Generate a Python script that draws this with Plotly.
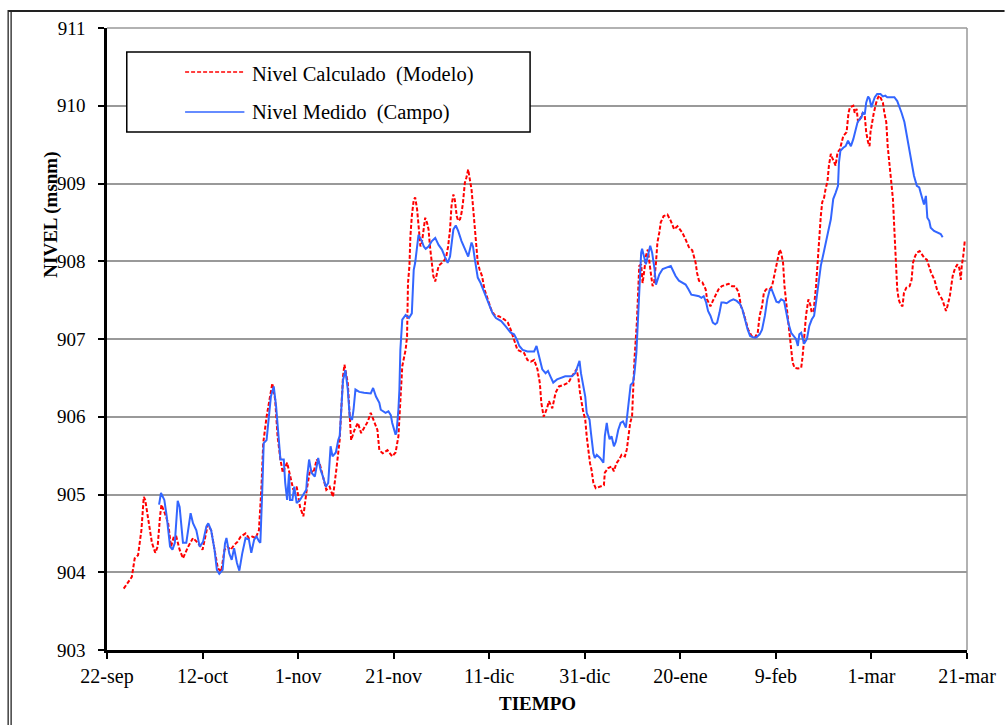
import pandas as pd
import plotly.graph_objects as go

# Time origin of the series (days are counted from here)
start_date = "2002-09-22"

# Calculated level (model) — days since start, level in msnm
calc_days = [3.5, 5.2, 5.8, 6.5, 7.2, 7.7, 8.0, 8.7, 9.4, 10.1, 10.6, 11.1, 11.4, 12.1, 12.8, 13.4, 14.0, 14.5,
             15.2, 15.9, 17.0, 18.0, 19.0, 20.0, 21.1, 21.8, 22.5, 23.2, 23.9, 24.6, 25.2, 25.9, 26.6, 27.3,
             28.0, 29.0, 29.7, 30.4, 31.1, 31.8, 32.3, 32.7, 33.4, 34.1, 34.6, 35.2, 35.7, 36.3, 36.8, 37.7,
             38.3, 39.0, 39.7, 40.4, 41.1, 41.8, 42.5, 43.2, 43.9, 44.5, 45.2, 45.9, 46.6, 47.3, 48.0, 48.7,
             49.4, 49.7, 50.4, 50.8, 51.1, 51.8, 52.5, 53.2, 53.9, 54.6, 55.2, 55.9, 56.6, 57.0, 57.7, 58.7,
             59.7, 60.4, 61.0, 61.2, 61.4, 61.8, 62.5, 62.8, 63.0, 63.3, 63.5, 63.8, 64.2, 64.5, 64.9, 65.2,
             65.6, 65.9, 66.3, 66.6, 67.0, 67.3, 67.6, 68.0, 68.3, 68.7, 69.0, 69.4, 70.1, 70.7, 71.0, 71.4,
             71.8, 72.1, 72.5, 72.8, 73.2, 73.5, 73.9, 74.2, 74.5, 74.9, 75.2, 75.6, 75.9, 76.3, 76.6, 77.0,
             77.3, 77.6, 78.0, 78.5, 79.0, 79.7, 80.4, 81.1, 82.1, 83.2, 83.9, 84.5, 85.2, 85.9, 86.6, 87.3,
             88.0, 88.7, 89.4, 90.1, 90.6, 90.9, 91.4, 92.1, 92.5, 93.2, 93.9, 94.6, 95.6, 96.6, 97.3, 98.0,
             98.3, 98.7, 99.0, 99.6, 100.1, 100.4, 100.8, 101.1, 101.4, 101.8, 102.3, 103.2, 104.0, 104.2,
             104.9, 105.6, 106.1, 106.6, 107.2, 107.7, 108.4, 108.8, 109.2, 109.5, 109.9, 110.4, 110.9, 111.2,
             111.4, 111.8, 112.1, 112.5, 112.8, 113.2, 113.5, 113.9, 114.2, 114.5, 114.9, 115.2, 115.6, 115.9,
             116.5, 117.3, 118.0, 118.7, 119.4, 120.4, 121.1, 121.8, 122.5, 123.2, 123.5, 123.9, 124.6, 125.3,
             125.6, 126.3, 126.8, 127.3, 128.0, 128.7, 129.4, 130.1, 130.8, 131.5, 132.2, 132.7, 133.2, 133.7,
             134.2, 134.9, 135.6, 136.2, 136.6, 137.1, 137.5, 138.0, 138.7, 139.2, 139.6, 140.1, 140.4, 140.8,
             141.1, 141.5, 141.8, 142.2, 142.5, 142.8, 143.2, 143.5, 143.9, 144.6, 145.3, 145.6, 146.0, 146.3,
             146.8, 147.2, 147.5, 147.9, 148.4, 148.7, 149.1, 149.4, 149.7, 150.1, 150.4, 150.8, 151.1, 151.5,
             151.8, 152.2, 152.5, 152.9, 153.4, 154.1, 154.8, 155.2, 155.5, 156.2, 156.5, 156.9, 157.2, 157.6,
             157.9, 158.2, 158.6, 158.9, 159.3, 159.6, 159.8, 160.1, 160.5, 161.0, 161.4, 161.7, 162.0, 162.4,
             162.7, 163.1, 163.4, 163.8, 164.1, 164.5, 164.8, 165.1, 165.4, 165.7, 166.1, 166.5, 166.8, 167.3,
             168.0, 168.4, 168.7, 169.1, 169.5, 170.1, 170.6, 171.1, 171.6, 172.0, 172.5, 173.2, 173.7, 174.2,
             174.8, 175.3, 175.6, 175.9, 176.4, 177.0, 177.5, 178.0, 178.4, 178.7, 178.9, 179.2, 179.5, 179.8]
calc_level = [903.79, 903.94, 904.18, 904.22, 904.54, 904.97, 904.93, 904.63, 904.38, 904.25, 904.33, 904.72,
              904.87, 904.76, 904.63, 904.33, 904.46, 904.46, 904.29, 904.18, 904.33, 904.44, 904.38, 904.29,
              904.61, 904.54, 904.29, 904.05, 904.01, 904.29, 904.33, 904.29, 904.35, 904.39, 904.46, 904.50,
              904.44, 904.46, 904.44, 904.54, 905.06, 905.66, 906.00, 906.26, 906.43, 906.22, 905.75, 905.45,
              905.28, 905.41, 905.23, 905.06, 905.10, 904.84, 904.72, 905.06, 905.32, 905.28, 905.45, 905.40,
              905.23, 905.06, 905.10, 904.97, 905.32, 905.70, 906.52, 906.67, 906.43, 906.00, 905.70, 905.83,
              905.92, 905.79, 905.87, 905.94, 906.05, 905.94, 905.83, 905.57, 905.53, 905.57, 905.49, 905.54,
              905.75, 905.98, 906.26, 906.65, 906.86, 907.03, 907.72, 907.94, 908.32, 908.58, 908.79, 908.82,
              908.67, 908.41, 908.19, 908.24, 908.41, 908.56, 908.49, 908.41, 908.19, 907.98, 907.81, 907.74,
              907.83, 907.94, 907.98, 908.02, 908.06, 908.19, 908.41, 908.71, 908.86, 908.79, 908.58, 908.52,
              908.54, 908.62, 908.75, 909.01, 909.07, 909.18, 909.07, 908.92, 908.71, 908.41, 908.15, 907.98,
              907.89, 907.81, 907.64, 907.51, 907.38, 907.31, 907.29, 907.25, 907.21, 907.12, 906.99, 906.86,
              906.84, 906.82, 906.73, 906.71, 906.73, 906.61, 906.43, 906.18, 906.00, 906.11, 906.20, 906.11,
              906.31, 906.39, 906.41, 906.44, 906.52, 906.59, 906.61, 906.48, 906.31, 906.09, 905.96, 905.75,
              905.53, 905.40, 905.32, 905.15, 905.08, 905.10, 905.12, 905.28, 905.34, 905.36, 905.30, 905.40,
              905.45, 905.51, 905.49, 905.58, 905.75, 905.92, 906.01, 906.74, 907.21, 907.68, 907.94, 907.96,
              907.72, 907.90, 908.07, 908.15, 908.03, 907.81, 907.68, 907.72, 907.98, 908.24, 908.37, 908.50,
              908.58, 908.60, 908.52, 908.41, 908.45, 908.37, 908.28, 908.18, 908.14, 907.98, 907.85, 907.75,
              907.73, 907.64, 907.51, 907.42, 907.49, 907.55, 907.64, 907.68, 907.70, 907.71, 907.68, 907.68,
              907.60, 907.42, 907.34, 907.21, 907.12, 907.04, 907.02, 907.08, 907.30, 907.42, 907.60, 907.64,
              907.64, 907.68, 907.81, 907.94, 908.07, 908.15, 908.11, 907.98, 907.68, 907.42, 907.25, 907.04,
              906.87, 906.70, 906.63, 906.62, 906.63, 906.78, 907.04, 907.30, 907.51, 907.44, 907.34, 907.36,
              907.68, 907.98, 908.33, 908.58, 908.76, 908.82, 908.93, 909.03, 909.23, 909.38, 909.33, 909.27,
              909.23, 909.40, 909.44, 909.61, 909.66, 909.91, 909.98, 910.00, 909.91, 909.96, 909.79, 909.83,
              909.87, 909.91, 909.87, 909.66, 909.53, 909.48, 909.66, 909.79, 909.91, 910.04, 910.11, 910.13,
              910.09, 910.04, 909.91, 909.79, 909.48, 909.23, 908.97, 908.80, 908.40, 907.98, 907.64, 907.51,
              907.44, 907.42, 907.59, 907.66, 907.68, 907.76, 907.98, 908.06, 908.11, 908.13, 908.09, 908.04,
              908.02, 907.94, 907.85, 907.76, 907.64, 907.57, 907.51, 907.42, 907.36, 907.42, 907.55, 907.81,
              907.91, 907.96, 907.91, 907.76, 907.94, 908.06, 908.24, 908.24]

# Measured level (field) — days since start, level in msnm
meas_days = [10.9, 11.3, 12.0, 12.5, 13.2, 13.7, 14.2, 14.8, 15.2, 15.9, 16.6, 17.1, 17.5, 18.0, 18.7, 19.4,
             20.1, 20.8, 21.2, 21.8, 22.5, 23.0, 23.5, 24.2, 24.7, 25.0, 25.6, 26.1, 26.6, 27.2, 27.7, 28.3,
             29.0, 29.7, 30.2, 30.8, 31.3, 31.8, 32.1, 32.5, 32.8, 33.4, 33.9, 34.3, 34.9, 35.4, 35.9, 36.3,
             37.0, 37.3, 37.7, 38.1, 38.3, 38.8, 39.2, 39.7, 40.4, 41.7, 41.9, 42.3, 42.8, 43.5, 44.2, 44.7,
             45.2, 45.8, 46.3, 46.8, 47.2, 47.9, 48.4, 48.7, 49.4, 49.9, 50.4, 50.8, 51.3, 51.6, 52.0, 52.8,
             53.8, 54.6, 55.2, 55.7, 56.3, 57.0, 57.3, 58.3, 58.9, 59.4, 59.7, 60.4, 60.6, 61.0, 61.2, 61.4,
             61.8, 62.5, 63.2, 63.8, 64.2, 64.5, 64.9, 65.2, 65.9, 66.3, 66.7, 67.3, 68.0, 68.7, 69.4, 70.1,
             70.7, 71.3, 71.8, 72.1, 72.5, 73.0, 73.5, 74.2, 74.9, 75.6, 76.3, 76.6, 77.0, 77.3, 77.6, 78.2,
             78.7, 79.4, 80.1, 80.7, 81.4, 82.5, 83.5, 84.5, 85.2, 85.8, 86.3, 87.0, 88.0, 89.4, 89.9, 90.4,
             91.1, 91.8, 92.3, 92.8, 93.4, 94.2, 95.2, 95.9, 97.3, 98.0, 98.5, 98.9, 99.2, 99.6, 100.1, 100.4,
             101.0, 101.3, 101.8, 102.1, 102.5, 103.2, 103.9, 104.2, 104.6, 104.9, 105.2, 105.6, 106.1, 106.5,
             107.0, 107.5, 108.0, 108.6, 108.8, 109.2, 109.6, 110.1, 110.4, 110.8, 111.1, 111.4, 111.8, 112.0,
             112.5, 112.8, 113.2, 113.7, 114.1, 114.6, 114.9, 115.2, 115.6, 116.3, 117.3, 118.0, 118.3, 119.0,
             119.7, 120.4, 121.1, 121.7, 122.3, 123.2, 123.9, 124.4, 124.9, 125.4, 125.8, 126.3, 126.8, 127.3,
             127.7, 128.2, 128.6, 129.1, 129.7, 130.4, 131.1, 131.8, 132.5, 133.0, 133.5, 134.1, 134.6, 135.3,
             135.9, 136.6, 137.1, 137.7, 138.2, 138.7, 139.1, 139.6, 140.1, 140.6, 141.1, 141.7, 142.2, 142.6,
             143.2, 143.7, 144.2, 144.6, 144.9, 145.3, 145.9, 146.5, 147.0, 147.5, 148.0, 148.4, 148.8, 149.4,
             150.0, 150.4, 150.9, 151.5, 152.0, 152.5, 153.0, 153.2, 153.5, 154.1, 154.6, 155.1, 155.7, 156.2,
             156.7, 157.1, 157.6, 157.9, 158.2, 158.6, 158.9, 159.3, 159.6, 160.0, 160.3, 160.7, 161.2, 161.9,
             162.4, 162.9, 163.3, 164.8, 165.4, 165.8, 166.3, 166.9, 167.4, 167.9, 168.4, 168.9, 169.5, 170.0,
             170.3, 170.7, 171.0, 171.4, 171.6, 171.7, 172.1, 172.4, 173.1, 173.8, 174.5, 174.9]
meas_level = [904.87, 905.02, 904.93, 904.72, 904.33, 904.29, 904.38, 904.92, 904.84, 904.38, 904.38, 904.59,
              904.76, 904.63, 904.54, 904.33, 904.39, 904.59, 904.63, 904.54, 904.29, 904.03, 903.98, 904.03,
              904.37, 904.44, 904.24, 904.16, 904.31, 904.12, 904.02, 904.24, 904.44, 904.42, 904.25, 904.42,
              904.46, 904.40, 904.38, 905.06, 905.66, 905.70, 906.00, 906.26, 906.39, 906.13, 905.75, 905.45,
              905.45, 905.15, 904.93, 905.27, 904.93, 904.93, 905.10, 904.89, 904.93, 905.06, 905.23, 905.45,
              905.28, 905.23, 905.47, 905.32, 905.23, 905.10, 905.15, 905.62, 905.49, 905.54, 905.70, 905.75,
              906.47, 906.60, 906.35, 906.00, 905.96, 906.09, 906.35, 906.32, 906.31, 906.30, 906.30, 906.37,
              906.26, 906.18, 906.09, 906.05, 906.07, 906.02, 905.92, 905.77, 905.80, 906.10, 906.35, 906.86,
              907.25, 907.31, 907.27, 907.33, 907.89, 907.98, 908.19, 908.34, 908.26, 908.19, 908.16, 908.19,
              908.26, 908.30, 908.21, 908.15, 908.06, 907.98, 908.06, 908.24, 908.41, 908.46, 908.39, 908.26,
              908.15, 908.06, 908.24, 908.19, 908.02, 907.87, 907.79, 907.72, 907.64, 907.53, 907.42, 907.33,
              907.27, 907.23, 907.16, 907.08, 907.06, 906.99, 906.91, 906.86, 906.84, 906.84, 906.91, 906.80,
              906.61, 906.56, 906.59, 906.52, 906.44, 906.48, 906.50, 906.52, 906.52, 906.56, 906.65, 906.72,
              906.56, 906.44, 906.26, 906.05, 905.96, 905.79, 905.53, 905.47, 905.51, 905.47, 905.41, 905.75,
              905.92, 905.79, 905.71, 905.75, 905.62, 905.68, 905.83, 905.92, 905.94, 905.86, 905.96, 906.18,
              906.41, 906.44, 906.56, 906.82, 907.25, 907.68, 908.11, 908.16, 908.03, 907.96, 908.07, 908.20,
              908.11, 907.90, 907.70, 907.75, 907.83, 907.90, 907.92, 907.94, 907.90, 907.81, 907.75, 907.72,
              907.70, 907.64, 907.57, 907.56, 907.55, 907.53, 907.55, 907.47, 907.36, 907.30, 907.21, 907.19,
              907.21, 907.34, 907.47, 907.47, 907.46, 907.49, 907.51, 907.49, 907.45, 907.38, 907.25, 907.12,
              907.04, 907.02, 907.02, 907.06, 907.12, 907.30, 907.51, 907.63, 907.64, 907.55, 907.48, 907.47,
              907.51, 907.49, 907.34, 907.21, 907.08, 907.04, 907.00, 906.91, 907.06, 907.08, 906.94, 907.00,
              907.17, 907.25, 907.30, 907.47, 907.68, 907.94, 908.11, 908.24, 908.37, 908.54, 908.80, 908.88,
              908.97, 909.27, 909.42, 909.46, 909.48, 909.55, 909.48, 909.57, 909.68, 909.79, 909.83, 909.85,
              909.91, 909.89, 910.04, 910.12, 910.09, 909.98, 910.04, 910.11, 910.15, 910.15, 910.12, 910.13,
              910.11, 910.11, 910.06, 910.00, 909.91, 909.79, 909.61, 909.44, 909.27, 909.10, 908.97, 908.95,
              908.88, 908.80, 908.73, 908.84, 908.71, 908.56, 908.52, 908.43, 908.39, 908.37, 908.35, 908.31]

# Axis ticks: every 20 days from the start date
tick_days = [0, 20, 40, 60, 80, 100, 120, 140, 160, 180]
tick_labels = ["22-sep", "12-oct", "1-nov", "21-nov", "11-dic", "31-dic", "20-ene", "9-feb", "1-mar", "21-mar"]
y_ticks = [903, 904, 905, 906, 907, 908, 909, 910, 911]

series_names = ["Nivel Calculado\u00a0 (Modelo)", "Nivel Medido\u00a0 (Campo)"]

t0 = pd.Timestamp(start_date)


def to_dates(days):
    return [t0 + pd.to_timedelta(d, unit="D") for d in days]


RED = "#FF0000"
BLUE = "#3366FF"
FONT = "Liberation Serif, Times New Roman, serif"

W, H = 1008, 725
L, R, T, B = 107, 977, 28, 650  # plot area in pixels


def px(x):
    return (x - L) / (R - L)


def py(y):
    return (B - y) / (B - T)


fig = go.Figure()
fig.add_trace(go.Scatter(x=to_dates(calc_days), y=calc_level, mode="lines", name=series_names[0],
                         line=dict(color=RED, width=2, dash="4px,2px"), showlegend=False))
fig.add_trace(go.Scatter(x=to_dates(meas_days), y=meas_level, mode="lines", name=series_names[1],
                         line=dict(color=BLUE, width=2), showlegend=False))

shapes = []
# plot-area border on top and right
shapes.append(dict(type="line", xref="paper", yref="paper", x0=0, x1=1, y0=1, y1=1,
                   line=dict(color="#999999", width=1.5), layer="below"))
shapes.append(dict(type="line", xref="paper", yref="paper", x0=1, x1=1, y0=0, y1=1,
                   line=dict(color="#999999", width=1.5), layer="below"))
# outer chart frame (double rule on the left)
shapes.append(dict(type="line", xref="paper", yref="paper", x0=px(7), x1=px(7), y0=py(10), y1=py(730),
                   line=dict(color="#222222", width=1.3)))
shapes.append(dict(type="line", xref="paper", yref="paper", x0=px(10), x1=px(10), y0=py(11), y1=py(730),
                   line=dict(color="#222222", width=1.3)))
shapes.append(dict(type="line", xref="paper", yref="paper", x0=px(7), x1=px(1015), y0=py(11), y1=py(11),
                   line=dict(color="#222222", width=2)))
# legend box
shapes.append(dict(type="rect", xref="paper", yref="paper", x0=px(127), x1=px(535), y0=py(52), y1=py(132),
                   line=dict(color="#000000", width=1.5), fillcolor="white", layer="above"))
shapes.append(dict(type="line", xref="paper", yref="paper", x0=px(186), x1=px(246), y0=py(72), y1=py(72),
                   line=dict(color=RED, width=1.3, dash="4px,2px"), layer="above"))
shapes.append(dict(type="line", xref="paper", yref="paper", x0=px(186), x1=px(246), y0=py(112), y1=py(112),
                   line=dict(color=BLUE, width=1.6), layer="above"))

annotations = []
for name, yc in zip(series_names, [74, 113]):
    annotations.append(dict(text=name, xref="paper", yref="paper", x=px(252), y=py(yc),
                            xanchor="left", yanchor="middle", showarrow=False,
                            font=dict(family=FONT, size=20.5, color="black")))
annotations.append(dict(text="<b>TIEMPO</b>", xref="paper", yref="paper", x=px(542), y=py(703),
                        xanchor="center", yanchor="middle", showarrow=False,
                        font=dict(family=FONT, size=19, color="black")))
annotations.append(dict(text="<b>NIVEL (msnm)</b>", xref="paper", yref="paper", x=px(50), y=py(215),
                        xanchor="center", yanchor="middle", showarrow=False, textangle=-90,
                        font=dict(family=FONT, size=19, color="black")))

fig.update_layout(
    width=W, height=H,
    margin=dict(l=L, r=W - R, t=T, b=H - B),
    paper_bgcolor="white", plot_bgcolor="white",
    font=dict(family=FONT, size=20, color="black"),
    shapes=shapes, annotations=annotations,
    showlegend=False,
)
fig.update_xaxes(
    type="date",
    range=[t0, t0 + pd.to_timedelta(180, unit="D")],
    tickmode="array", tickvals=to_dates(tick_days), ticktext=tick_labels,
    ticks="outside", ticklen=6, tickwidth=2, tickcolor="black",
    showline=True, linecolor="black", linewidth=2.5,
    showgrid=False, zeroline=False,
    tickfont=dict(family=FONT, size=20, color="black"),
)
fig.update_yaxes(
    range=[903, 911], tickmode="array", tickvals=y_ticks,
    ticks="outside", ticklen=6, tickwidth=2, tickcolor="black",
    showline=True, linecolor="black", linewidth=2.5,
    showgrid=True, gridcolor="#999999", gridwidth=1.5, zeroline=False,
    tickfont=dict(family=FONT, size=19, color="black"),
    ticklabelstandoff=9,
)

fig.write_html("out.html")
